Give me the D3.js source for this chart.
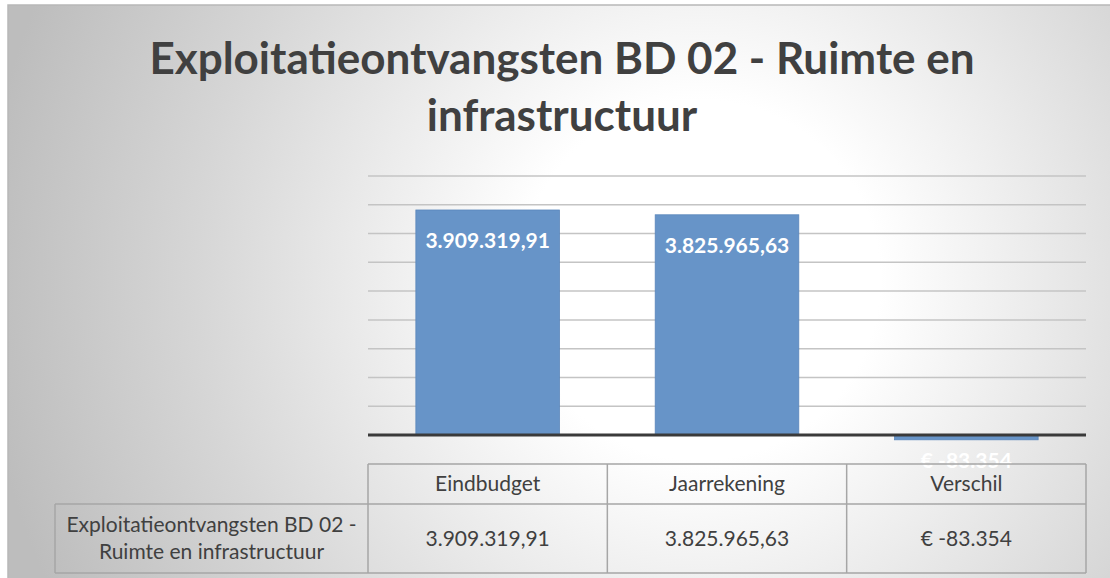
<!DOCTYPE html>
<html lang="en">
<head>
    <meta charset="utf-8">
    <title>Exploitatieontvangsten BD 02</title>
    <script src="https://d3js.org/d3.v7.min.js"></script>
    <style>
        body { margin: 0; background: #fff; }
        text { font-family: Lato, "Open Sans", sans-serif; }
    </style>
</head>
<body>
<div id="chart"></div>
<script>
    // Data
    const categories = ["Eindbudget", "Jaarrekening", "Verschil"];
    const values = [3909319.91, 3825965.63, -83354];
    const barLabels = ["3.909.319,91", "3.825.965,63", "€ -83.354"];
    const tableLabels = ["3.909.319,91", "3.825.965,63", "€ -83.354"];
    const rowLabel = ["Exploitatieontvangsten BD 02 -", "Ruimte en infrastructuur"];
    const titleLines = ["Exploitatieontvangsten BD 02 - Ruimte en", "infrastructuur"];
    const gridTicks = [500000, 1000000, 1500000, 2000000, 2500000, 3000000, 3500000, 4000000, 4500000];

    const W = 1110, H = 578;
    const plot = {left: 368, right: 1086, top: 176, bottom: 435};

    const svg = d3.select("#chart").append("svg")
        .attr("width", W).attr("height", H);

    // background gradient
    const defs = svg.append("defs");
    const grad = defs.append("radialGradient")
        .attr("id", "bg")
        .attr("gradientUnits", "userSpaceOnUse")
        .attr("cx", 700).attr("cy", 280).attr("r", 720);
    grad.append("stop").attr("offset", "0%").attr("stop-color", "#ffffff");
    grad.append("stop").attr("offset", "25%").attr("stop-color", "#ffffff");
    grad.append("stop").attr("offset", "70%").attr("stop-color", "#d6d6d6");
    grad.append("stop").attr("offset", "100%").attr("stop-color", "#bdbdbd");

    svg.append("rect")
        .attr("x", 8).attr("y", 5).attr("width", W).attr("height", H)
        .attr("fill", "url(#bg)")
        .attr("stroke", "#b8b8b8").attr("stroke-width", 1.5);

    // title
    svg.append("text")
        .attr("x", 562).attr("y", 74)
        .attr("text-anchor", "middle")
        .attr("font-size", 44).attr("font-weight", "bold")
        .attr("fill", "#404040")
        .selectAll("tspan").data(titleLines).join("tspan")
        .attr("x", 562)
        .attr("dy", (d, i) => i === 0 ? 0 : 57)
        .text(d => d);

    // scales
    const x = d3.scaleBand()
        .domain(categories)
        .range([plot.left, plot.right])
        .paddingInner(0.4)
        .paddingOuter(0.2);

    const y = d3.scaleLinear()
        .domain([0, 4500000])
        .range([plot.bottom, plot.top]);

    // gridlines
    svg.append("g")
        .selectAll("line").data(gridTicks).join("line")
        .attr("x1", plot.left).attr("x2", plot.right)
        .attr("y1", d => y(d)).attr("y2", d => y(d))
        .attr("stroke", "#c4c4c4").attr("stroke-width", 1.5);

    // bars
    svg.append("g")
        .selectAll("rect").data(values).join("rect")
        .attr("x", (d, i) => x(categories[i]))
        .attr("y", d => y(Math.max(0, d)))
        .attr("width", x.bandwidth())
        .attr("height", d => Math.abs(y(d) - y(0)))
        .attr("fill", "#6794c8")
        .attr("stroke", "#5a86bb").attr("stroke-width", 0.8);

    // baseline
    svg.append("line")
        .attr("x1", plot.left).attr("x2", plot.right)
        .attr("y1", y(0)).attr("y2", y(0))
        .attr("stroke", "#3a3a3a").attr("stroke-width", 3);

    // bar labels
    svg.append("g")
        .selectAll("text").data(values).join("text")
        .attr("x", (d, i) => x(categories[i]) + x.bandwidth() / 2)
        .attr("y", d => d >= 0 ? y(d) + 38 : y(0) + 33)
        .attr("text-anchor", "middle")
        .attr("font-size", 21).attr("font-weight", "bold")
        .attr("fill", "#ffffff")
        .text((d, i) => barLabels[i]);

    // data table
    const table = {top: 464, mid: 504, bottom: 573, left: 55};
    const tg = svg.append("g")
        .attr("stroke", "#a6a6a6").attr("stroke-width", 1.5).attr("fill", "none");
    // column boundaries at band step edges
    const edges = categories.map((c, i) => plot.left + i * x.step()).concat([plot.right]);
    tg.append("line")
        .attr("x1", plot.left).attr("x2", plot.right)
        .attr("y1", table.top).attr("y2", table.top);
    tg.append("line")
        .attr("x1", table.left).attr("x2", plot.right)
        .attr("y1", table.mid).attr("y2", table.mid);
    tg.append("line")
        .attr("x1", table.left).attr("x2", plot.right)
        .attr("y1", table.bottom).attr("y2", table.bottom);
    tg.append("line")
        .attr("x1", table.left).attr("x2", table.left)
        .attr("y1", table.mid).attr("y2", table.bottom);
    tg.selectAll("line.col").data(edges).join("line")
        .attr("class", "col")
        .attr("x1", d => d).attr("x2", d => d)
        .attr("y1", table.top).attr("y2", table.bottom);

    // header texts
    svg.append("g")
        .selectAll("text").data(categories).join("text")
        .attr("x", d => x(d) + x.bandwidth() / 2)
        .attr("y", 491)
        .attr("text-anchor", "middle")
        .attr("font-size", 21).attr("fill", "#404040")
        .text(d => d);

    // value texts
    svg.append("g")
        .selectAll("text").data(tableLabels).join("text")
        .attr("x", (d, i) => x(categories[i]) + x.bandwidth() / 2)
        .attr("y", 546)
        .attr("text-anchor", "middle")
        .attr("font-size", 21).attr("fill", "#404040")
        .text(d => d);

    // row label
    svg.append("text")
        .attr("x", (table.left + plot.left) / 2)
        .attr("y", 532)
        .attr("text-anchor", "middle")
        .attr("font-size", 21).attr("fill", "#404040")
        .selectAll("tspan").data(rowLabel).join("tspan")
        .attr("x", (table.left + plot.left) / 2)
        .attr("dy", (d, i) => i === 0 ? 0 : 27)
        .text(d => d);
</script>
</body>
</html>
